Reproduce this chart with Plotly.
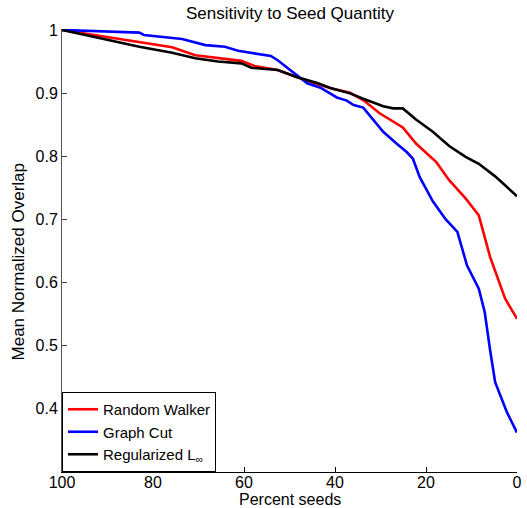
import plotly.graph_objects as go

# Percent seeds (x) and mean normalized overlap (y) for each method
rw_x = [100, 83, 75.8, 70.7, 65.7, 60.6, 57.7, 52.6, 48.3, 43.9, 41, 36.7, 33.8, 30.2, 27.2, 25.1, 22.2, 17.8, 14.9, 11.3, 8.4, 5.9, 2.6, 0]
rw_y = [1, 0.98, 0.9725, 0.960, 0.956, 0.951, 0.943, 0.9365, 0.925, 0.915, 0.9075, 0.9005, 0.889, 0.868, 0.8545, 0.8455, 0.820, 0.791, 0.762, 0.733, 0.7063, 0.640, 0.574, 0.5424]

gc_x = [100, 83, 82, 73.6, 68.5, 64.2, 61.3, 57.7, 54.1, 52.6, 49.8, 47.6, 46.1, 43.2, 39.6, 37.4, 35.9, 33.8, 31.6, 29.4, 26.5, 24.3, 22.9, 21.4, 18.5, 15.7, 13.1, 11, 8.4, 7.1, 5.9, 4.8, 2.2, 0]
gc_y = [1, 0.9957, 0.992, 0.9857, 0.976, 0.9735, 0.967, 0.963, 0.9587, 0.952, 0.936, 0.923, 0.9155, 0.9085, 0.893, 0.888, 0.881, 0.877, 0.857, 0.8386, 0.820, 0.807, 0.7963, 0.767, 0.7285, 0.700, 0.680, 0.627, 0.590, 0.553, 0.492, 0.4417, 0.394, 0.362]

rl_x = [100, 83, 75.8, 70.7, 65.7, 60.6, 58.4, 52.6, 48.3, 43.9, 41, 36.7, 33.8, 29.4, 27.2, 25.1, 22.2, 18.5, 14.9, 11.3, 8.4, 4.8, 2.2, 0]
rl_y = [1, 0.9735, 0.964, 0.955, 0.950, 0.947, 0.940, 0.9365, 0.925, 0.916, 0.908, 0.8995, 0.891, 0.879, 0.8757, 0.8757, 0.858, 0.8386, 0.816, 0.799, 0.788, 0.768, 0.751, 0.7365]

names = ["Random Walker", "Graph Cut", "Regularized L<sub>∞</sub>"]
colors = ["#ff0000", "#0000ff", "#000000"]

x_ticks = [100, 80, 60, 40, 20, 0]
y_ticks = [0.4, 0.5, 0.6, 0.7, 0.8, 0.9, 1]
y_tick_text = ["0.4", "0.5", "0.6", "0.7", "0.8", "0.9", "1"]

FONT = "Liberation Sans, Arial, Helvetica, sans-serif"

fig = go.Figure()
for xs, ys, nm, c in zip([rw_x, gc_x, rl_x], [rw_y, gc_y, rl_y], names, colors):
    fig.add_trace(go.Scatter(x=xs, y=ys, mode="lines", name=nm,
                             line=dict(color=c, width=2.6)))

fig.update_layout(
    width=527, height=508,
    margin=dict(l=62, r=5, t=29, b=36),
    paper_bgcolor="white", plot_bgcolor="white",
    font=dict(family=FONT, color="black", size=16),
    showlegend=True,
    legend=dict(x=0, y=0, xanchor="left", yanchor="bottom",
                bgcolor="white", bordercolor="black", borderwidth=1,
                font=dict(size=15, family=FONT), tracegroupgap=0,
                itemwidth=30),
    annotations=[
        dict(text="Sensitivity to Seed Quantity", xref="paper", yref="paper",
             x=0.5, y=(472 - 13) / 443, xanchor="center", yanchor="middle",
             showarrow=False, font=dict(size=17, family=FONT)),
        dict(text="Percent seeds", xref="paper", yref="paper",
             x=0.5, y=-27 / 443, xanchor="center", yanchor="middle",
             showarrow=False, font=dict(size=16, family=FONT)),
        dict(text="Mean Normalized Overlap", xref="paper", yref="paper",
             x=(18 - 62) / 460, y=(472 - 262) / 443, xanchor="center", yanchor="middle",
             textangle=-90, showarrow=False, font=dict(size=17, family=FONT)),
    ],
)
fig.update_xaxes(range=[100, 0], tickvals=x_ticks, ticks="inside", ticklen=5,
                 tickcolor="black", showline=True, linecolor="black", linewidth=1,
                 showgrid=False, zeroline=False, tickfont=dict(size=16),
                 ticklabelstandoff=-4)
fig.update_yaxes(range=[0.2995, 1.0015], tickvals=y_ticks, ticktext=y_tick_text,
                 ticks="inside", ticklen=5, tickcolor="#444", showline=True,
                 linecolor="#555", linewidth=1, showgrid=False, zeroline=False,
                 tickfont=dict(size=16))

fig.write_html("out.html")
